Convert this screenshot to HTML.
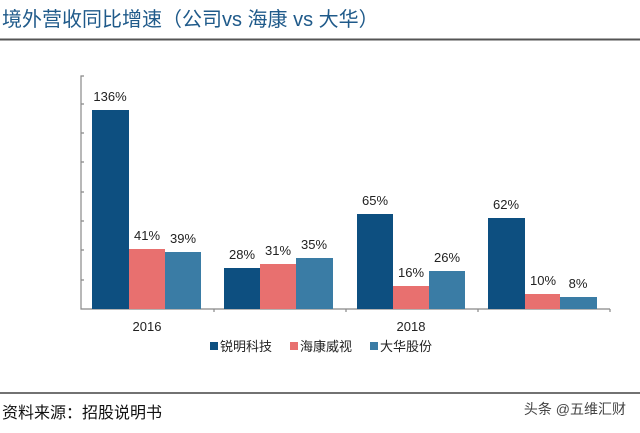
<!DOCTYPE html>
<html><head><meta charset="utf-8"><style>
body{margin:0;width:640px;height:428px;background:#fff;overflow:hidden;font-family:"Liberation Sans","Noto Sans CJK SC",sans-serif;}
</style></head><body>
<svg width="640" height="428" xmlns="http://www.w3.org/2000/svg" font-family="Liberation Sans, Noto Sans CJK SC, sans-serif">
<text x="2" y="26" font-size="20" fill="#1f5a8a">境外营收同比增速（公司vs 海康 vs 大华）</text>
<line x1="0" y1="39.5" x2="640" y2="39.5" stroke="#555" stroke-width="2"/>
<g stroke="#888" stroke-width="1.2" fill="none">
<path d="M84 76 H81 V309 H610"/>
<path d="M81 280H84M81 250H84M81 221H84M81 192H84M81 162H84M81 133H84M81 104H84"/>
<path d="M214 309v3M346 309v3M478 309v3M610 309v3"/>
</g>
<g fill="#0d4f80">
<rect x="92" y="110" width="37" height="199"/><rect x="224" y="268" width="36" height="41"/>
<rect x="357" y="214" width="36" height="95"/><rect x="488" y="218" width="37" height="91"/></g>
<g fill="#e8706f">
<rect x="129" y="249" width="36" height="60"/><rect x="260" y="264" width="36" height="45"/>
<rect x="393" y="286" width="36" height="23"/><rect x="525" y="294" width="35" height="15"/></g>
<g fill="#3a7ca5">
<rect x="165" y="252" width="36" height="57"/><rect x="296" y="258" width="37" height="51"/>
<rect x="429" y="271" width="36" height="38"/><rect x="560" y="297" width="37" height="12"/></g>
<g font-size="13" fill="#222" text-anchor="middle">
<text x="110" y="101">136%</text><text x="147" y="240">41%</text><text x="183" y="243">39%</text>
<text x="242" y="259">28%</text><text x="278" y="255">31%</text><text x="314" y="249">35%</text>
<text x="375" y="205">65%</text><text x="411" y="277">16%</text><text x="447" y="262">26%</text>
<text x="506" y="209">62%</text><text x="543" y="285">10%</text><text x="578" y="288">8%</text>
<text x="147" y="331">2016</text><text x="411" y="331">2018</text>
</g>
<g font-size="13" fill="#222">
<rect x="210" y="342" width="8" height="8" fill="#0d4f80"/><text x="220" y="351">锐明科技</text>
<rect x="290" y="342" width="8" height="8" fill="#e8706f"/><text x="300" y="351">海康威视</text>
<rect x="370" y="342" width="8" height="8" fill="#3a7ca5"/><text x="380" y="351">大华股份</text>
</g>
<line x1="0" y1="393" x2="640" y2="393" stroke="#444" stroke-width="1.5"/>
<text x="2" y="418" font-size="16" fill="#111">资料来源：招股说明书</text>
<text x="626" y="414" font-size="14" fill="#444" text-anchor="end">头条 @五维汇财</text>
</svg>
</body></html>
